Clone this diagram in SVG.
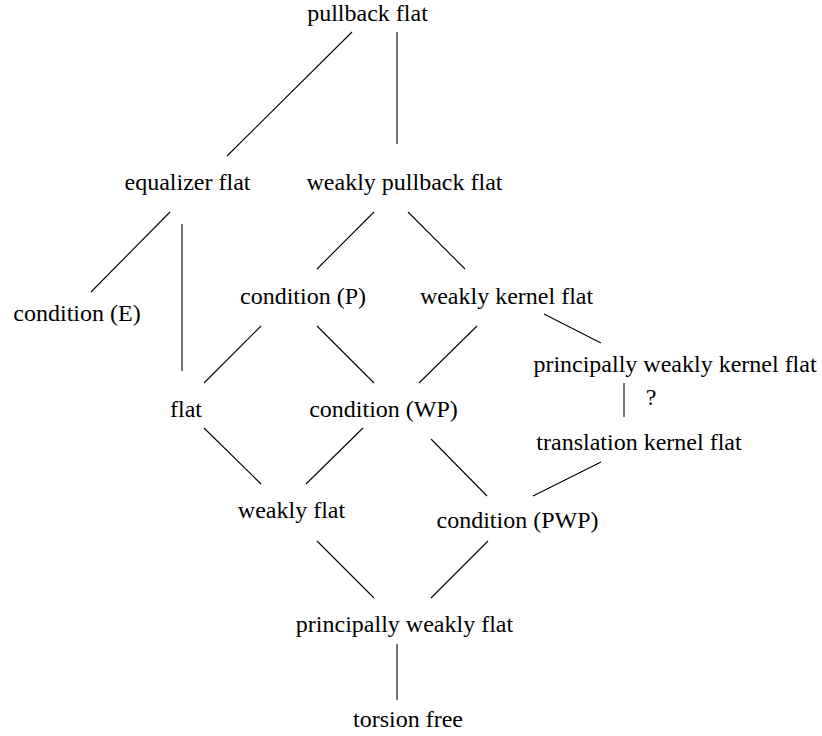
<svg xmlns="http://www.w3.org/2000/svg" width="822" height="736" viewBox="0 0 822 736">
<style>
  text { font-family: "Liberation Serif", "Times New Roman", serif; font-size: 24px; fill: #000; text-anchor: middle; }
  .edge { stroke: #000; stroke-width: 1.1; fill: none; stroke-linecap: butt; }
</style>
<rect width="822" height="736" fill="#fff"/>
<g id="connectors">
  <line class="edge" x1="352" y1="32" x2="227" y2="156"/>
  <line class="edge" x1="397" y1="32" x2="397" y2="144"/>
  <line class="edge" x1="170" y1="212" x2="91" y2="292"/>
  <line class="edge" x1="182" y1="224" x2="182" y2="371"/>
  <line class="edge" x1="374" y1="212" x2="317" y2="269"/>
  <line class="edge" x1="408" y1="212" x2="465" y2="269"/>
  <line class="edge" x1="261" y1="326" x2="204" y2="383"/>
  <line class="edge" x1="317" y1="326" x2="374" y2="383"/>
  <line class="edge" x1="477" y1="326" x2="419" y2="383"/>
  <line class="edge" x1="544" y1="314" x2="601" y2="343"/>
  <line class="edge" x1="624" y1="383" x2="624" y2="417"/>
  <line class="edge" x1="204" y1="428" x2="261" y2="484"/>
  <line class="edge" x1="363" y1="428" x2="306" y2="484"/>
  <line class="edge" x1="431" y1="439" x2="487" y2="496"/>
  <line class="edge" x1="601" y1="462" x2="533" y2="496"/>
  <line class="edge" x1="317" y1="541" x2="374" y2="598"/>
  <line class="edge" x1="488" y1="541" x2="431" y2="598"/>
  <line class="edge" x1="397" y1="644" x2="397" y2="700"/>
  <text id="edge-label-q" x="651" y="405">?</text>
</g>
<g id="n-pullback-flat"><text x="367.5" y="21">pullback flat</text></g>
<g id="n-equalizer-flat"><text x="187.5" y="190">equalizer flat</text></g>
<g id="n-weakly-pullback-flat"><text x="404.5" y="190">weakly pullback flat</text></g>
<g id="n-condition-e"><text x="77" y="321">condition (E)</text></g>
<g id="n-condition-p"><text x="303" y="304">condition (P)</text></g>
<g id="n-weakly-kernel-flat"><text x="506.5" y="304">weakly kernel flat</text></g>
<g id="n-principally-weakly-kernel-flat"><text x="675" y="372">principally weakly kernel flat</text></g>
<g id="n-flat"><text x="186" y="417">flat</text></g>
<g id="n-condition-wp"><text x="383.5" y="417">condition (WP)</text></g>
<g id="n-translation-kernel-flat"><text x="639" y="450">translation kernel flat</text></g>
<g id="n-weakly-flat"><text x="291.5" y="518">weakly flat</text></g>
<g id="n-condition-pwp"><text x="517.5" y="528">condition (PWP)</text></g>
<g id="n-principally-weakly-flat"><text x="404.5" y="632">principally weakly flat</text></g>
<g id="n-torsion-free"><text x="408" y="727">torsion free</text></g>
</svg>
